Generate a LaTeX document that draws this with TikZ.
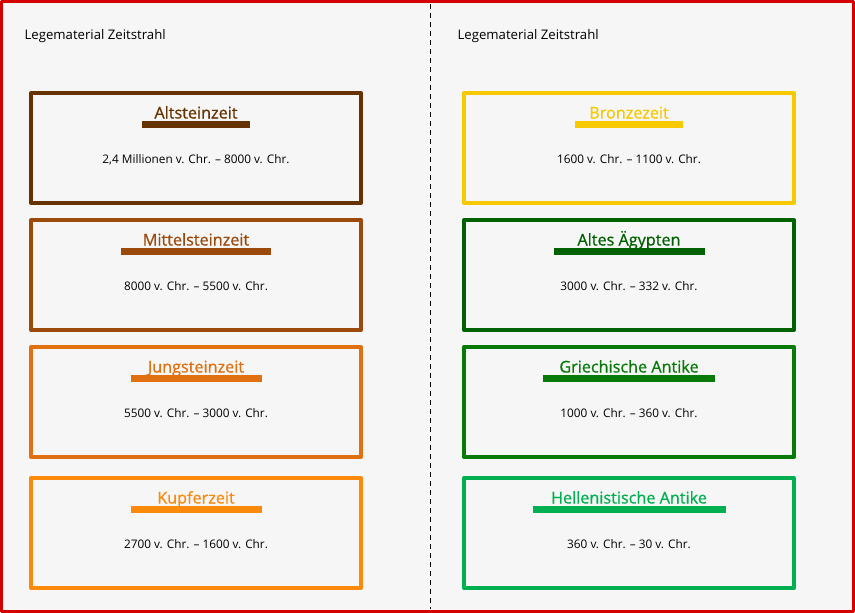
\documentclass[tikz,border=0pt]{standalone}
\usepackage{fontspec}
\setmainfont{Open Sans}
\newfontfamily\titlefont{Open Sans}[FakeBold=0.8]
\usetikzlibrary{positioning}

\definecolor{pagegray}{HTML}{F6F6F6}
\definecolor{frame}{HTML}{D40000}
\definecolor{altstein}{HTML}{663300}
\definecolor{mittelstein}{HTML}{9C4A0C}
\definecolor{jungstein}{HTML}{E07010}
\definecolor{kupfer}{HTML}{FB8A0C}
\definecolor{bronze}{HTML}{F8C800}
\definecolor{aegypten}{HTML}{006100}
\definecolor{griechen}{HTML}{087A08}
\definecolor{hellenen}{HTML}{00B050}

\begin{document}
\begin{tikzpicture}[x=1pt, y=-1pt, line join = round,
    header/.style = {anchor=base west, font=\fontsize{13.2}{15}\selectfont},
    epochbox/.style = {draw=#1, line width=4pt, minimum width=330pt, minimum height=110pt, inner sep=0pt},
    epochtitle/.style = {anchor=base, text=#1, font=\titlefont\fontsize{16.2}{19}\selectfont},
    daterange/.style = {anchor=base, font=\fontsize{11.8}{14}\selectfont}]
    \useasboundingbox (0,0) rectangle (855,613);
    \fill[pagegray] (0,0) rectangle (855,613);
    \draw[frame, line width=3pt] (1.5,1.5) rectangle (853.5,611.5);

    \coordinate (cutTop) at (430,4);
    \coordinate (cutBot) at (430,609);
    \draw[dash pattern=on 5pt off 4pt, line width=1pt] (cutTop) -- (cutBot);

    \node[header] (headL) at (21,39) {Legematerial Zeitstrahl};
    \node[header] (headR) at (454,39) {Legematerial Zeitstrahl};

    % x / y / colour / name / title / dates / bar width
    \foreach \x/\y/\c/\n/\t/\d/\w in {
        196/148/altstein/a/Altsteinzeit/{2,4 Millionen v. Chr. – 8000 v. Chr.}/108,
        196/275/mittelstein/b/Mittelsteinzeit/{8000 v. Chr. – 5500 v. Chr.}/150,
        196/402/jungstein/c/Jungsteinzeit/{5500 v. Chr. – 3000 v. Chr.}/131,
        196/533/kupfer/d/Kupferzeit/{2700 v. Chr. – 1600 v. Chr.}/131,
        629/148/bronze/e/Bronzezeit/{1600 v. Chr. – 1100 v. Chr.}/108,
        629/275/aegypten/f/Altes Ägypten/{3000 v. Chr. – 332 v. Chr.}/151,
        629/402/griechen/g/Griechische Antike/{1000 v. Chr. – 360 v. Chr.}/172,
        629/533/hellenen/h/Hellenistische Antike/{360 v. Chr. – 30 v. Chr.}/193}
    {
        \node[epochbox=\c] (box\n) at (\x,\y) {};
        \fill[\c] (\x-\w/2,\y-27) rectangle (\x+\w/2,\y-20);
        \node[epochtitle=\c] (title\n) at (\x,\y-29.5) {\t};
        \node[daterange] (date\n) at (\x,\y+15) {\d};
    }
\end{tikzpicture}
\end{document}
